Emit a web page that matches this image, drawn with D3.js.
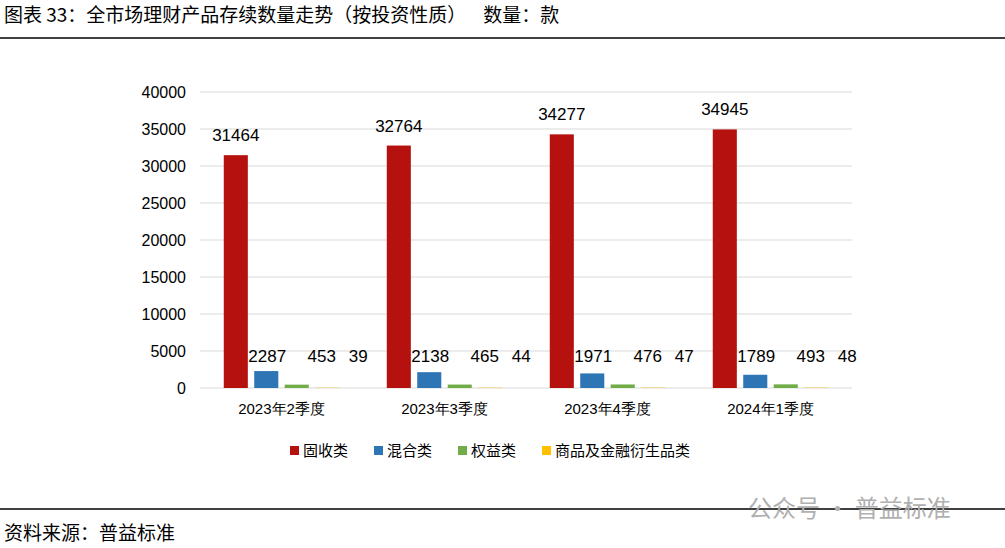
<!DOCTYPE html>
<html><head><meta charset="utf-8">
<script src="https://cdn.jsdelivr.net/npm/d3@7"></script>
<style>body{margin:0;background:#fff}svg{font-family:"Noto Sans CJK SC","DejaVu Sans",sans-serif}</style>
</head><body><svg id="c" width="1005" height="548"></svg>
<script>
const quarters = ['2023年2季度', '2023年3季度', '2023年4季度', '2024年1季度']
const seriesNames = ['固收类', '混合类', '权益类', '商品及金融衍生品类']
const colors = ['#b5120f', '#2e75b6', '#70ad47', '#ffc000']
const fixedIncome = [31464, 32764, 34277, 34945]
const mixed = [2287, 2138, 1971, 1789]
const equity = [453, 465, 476, 493]
const commodity = [39, 44, 47, 48]
const yTicks = [0, 5000, 10000, 15000, 20000, 25000, 30000, 35000, 40000]

const series = [fixedIncome, mixed, equity, commodity]
const labelShift = [0, 1, 25, 31] // small labels are spread out so they don't collide
const svg = d3.select('#c')

svg.append('text').attr('x', 4).attr('y', 22).attr('font-size', 19).attr('fill', '#000')
  .style('white-space', 'pre')
  .text('图表 33：全市场理财产品存续数量走势（按投资性质）    数量：款')
svg.append('line').attr('x1', 0).attr('x2', 1005).attr('y1', 38).attr('y2', 38).attr('stroke', '#000').attr('stroke-width', 1.5)
svg.append('line').attr('x1', 0).attr('x2', 1005).attr('y1', 509).attr('y2', 509).attr('stroke', '#000').attr('stroke-width', 1.5)
svg.append('text').attr('x', 4).attr('y', 540).attr('font-size', 19).text('资料来源：普益标准')
svg.append('text').attr('x', 748).attr('y', 517).attr('font-size', 24).attr('fill', '#b0b0b0').text('公众号 · 普益标准')

const x = d3.scaleBand().domain(quarters).range([200, 852])
const xi = d3.scaleBand().domain(d3.range(4)).range([0, x.bandwidth()]).paddingInner(0.21).paddingOuter(0.78)
const y = d3.scaleLinear().domain([0, 40000]).range([388, 92])

// gridlines
svg.append('g').selectAll('line').data(yTicks).join('line')
  .attr('x1', 200).attr('x2', 852).attr('y1', d => y(d)).attr('y2', d => y(d))
  .attr('stroke', '#d9d9d9')

const ya = svg.append('g').attr('transform', 'translate(200,0)')
  .call(d3.axisLeft(y).tickValues(yTicks).tickSize(0).tickPadding(14).tickFormat(d3.format('d')))
ya.select('.domain').remove()
ya.selectAll('text').attr('font-size', 16).attr('font-family', 'Liberation Sans, sans-serif').attr('fill', '#000')

const xa = svg.append('g').attr('transform', 'translate(0,388)')
  .call(d3.axisBottom(x).tickSize(0).tickPadding(15))
xa.select('.domain').remove()
xa.selectAll('text').attr('font-size', 15).attr('fill', '#000')

quarters.forEach((q, qi) => {
  const g = svg.append('g').attr('transform', `translate(${x(q)},0)`)
  series.forEach((s, si) => {
    g.append('rect').attr('x', xi(si)).attr('width', xi.bandwidth())
      .attr('y', y(s[qi])).attr('height', y(0) - y(s[qi])).attr('fill', colors[si])
    g.append('text').attr('x', xi(si) + xi.bandwidth() / 2 + labelShift[si])
      .attr('y', si === 0 ? y(s[qi]) - 14 : y(0) - 26)
      .attr('text-anchor', 'middle').attr('font-size', 17).attr('font-family', 'Liberation Sans, sans-serif')
      .text(s[qi])
  })
})

const lg = svg.append('g').attr('transform', 'translate(290,451)')
let lx = 0
const widths = [84, 84, 84, 180]
seriesNames.forEach((n, i) => {
  lg.append('rect').attr('x', lx).attr('y', -5).attr('width', 9).attr('height', 9).attr('fill', colors[i])
  lg.append('text').attr('x', lx + 13).attr('y', 5).attr('font-size', 15).text(n)
  lx += widths[i]
})
</script></body></html>
